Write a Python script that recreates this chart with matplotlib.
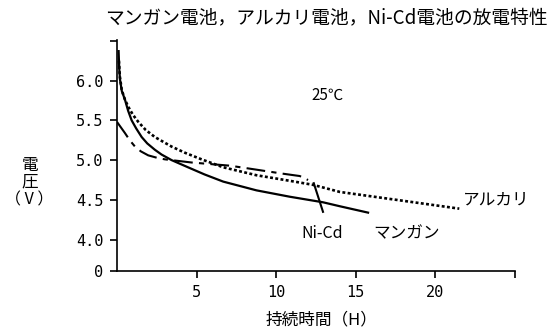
import matplotlib
matplotlib.use("Agg")
import matplotlib.pyplot as plt

plt.rcParams['font.family'] = ['Noto Sans CJK JP', 'DejaVu Sans']

# Discharge curves: time (H) vs voltage (V)
manganese_t = [0.1, 0.14, 0.19, 0.3, 0.5, 0.7, 0.92, 1.2, 1.55, 1.9, 2.38, 2.8, 3.43, 4.0,
               4.69, 5.5, 6.67, 8.76, 10.85, 12.94, 14.0, 15.77]
manganese_v = [6.37, 6.15, 6.01, 5.87, 5.76, 5.62, 5.50, 5.40, 5.29, 5.21, 5.13, 5.07, 5.00, 4.95,
               4.89, 4.82, 4.73, 4.62, 4.54, 4.47, 4.42, 4.34]

alkaline_t = [0.12, 0.18, 0.3, 0.5, 0.71, 1.0, 1.34, 1.8, 2.38, 3.43, 4.3, 5.31, 6.67, 8.76,
              10.85, 12.3, 14.0, 16.5, 19.0, 21.5]
alkaline_v = [6.25, 6.05, 5.88, 5.76, 5.67, 5.57, 5.48, 5.38, 5.29, 5.17, 5.09, 5.01, 4.91, 4.81,
              4.74, 4.69, 4.60, 4.53, 4.46, 4.39]

nicd_t = [0.0, 0.25, 0.5, 0.8, 1.13, 1.5, 1.96, 2.5, 3.0, 4.69, 7.1, 8.76, 10.4, 11.48, 12.0]
nicd_v = [5.48, 5.41, 5.34, 5.25, 5.17, 5.11, 5.06, 5.03, 5.01, 4.97, 4.93, 4.88, 4.83, 4.80, 4.75]

# end-of-discharge drop of the Ni-Cd cell
nicd_drop_t = [12.36, 12.94]
nicd_drop_v = [4.71, 4.35]

y_bottom = 3.61
y_ticks = [y_bottom, 4.0, 4.5, 5.0, 5.5, 6.0, 6.5]
y_tick_labels = ["0", "4.0", "4.5", "5.0", "5.5", "6.0", ""]
x_ticks = [5, 10, 15, 20, 25]
x_tick_labels = ["5", "10", "15", "20", ""]

fig = plt.figure(figsize=(5.53, 3.28), dpi=100)
ax = fig.add_axes([117 / 553, 1 - 270.7 / 328, (515 - 117) / 553, (270.7 - 40) / 328])

ax.plot(manganese_t, manganese_v, color="black", lw=1.6, solid_joinstyle="round")
ax.plot(alkaline_t, alkaline_v, color="black", lw=1.9, linestyle=(0, (1.1, 0.9)))
ax.plot(nicd_t, nicd_v, color="black", lw=1.5, linestyle=(0, (9, 3, 2.5, 3)))
ax.plot(nicd_drop_t, nicd_drop_v, color="black", lw=1.5)

ax.set_xlim(0, 25)
ax.set_ylim(y_bottom, 6.51)
ax.set_xticks(x_ticks)
ax.set_xticklabels(x_tick_labels)
ax.set_yticks(y_ticks)
ax.set_yticklabels(y_tick_labels)

for s in ("top", "right"):
    ax.spines[s].set_visible(False)
for s in ("left", "bottom"):
    ax.spines[s].set_linewidth(1.2)
ax.tick_params(direction="out", length=5, width=1.2, labelsize=11, pad=5)
for lbl in ax.get_xticklabels() + ax.get_yticklabels():
    lbl.set_family("DejaVu Sans Mono")

ax.text(21.7, 4.50, "アルカリ", fontsize=12, va="center", ha="left")
ax.text(11.6, 4.08, "Ni-Cd", fontsize=11.5, va="center", ha="left")
ax.text(16.1, 4.08, "マンガン", fontsize=12, va="center", ha="left")
ax.text(13.2, 5.82, "25℃", fontsize=11, va="center", ha="center")

fig.text(548 / 553, 1 - 18 / 328, "マンガン電池，アルカリ電池，Ni-Cd電池の放電特性",
         fontsize=13.5, ha="right", va="center")
# vertical axis title: stacked characters plus the unit below
fig.text(30 / 553, 1 - 174 / 328, "電\n圧", fontsize=12, ha="center", va="center",
         linespacing=0.95)
fig.text(29 / 553, 1 - 200 / 328, "（ V ）", fontsize=11.5, ha="center", va="center")
fig.text(322 / 553, 1 - 320 / 328, "持続時間（H）", fontsize=12, ha="center", va="center")

fig.savefig("out.png", dpi=100)
